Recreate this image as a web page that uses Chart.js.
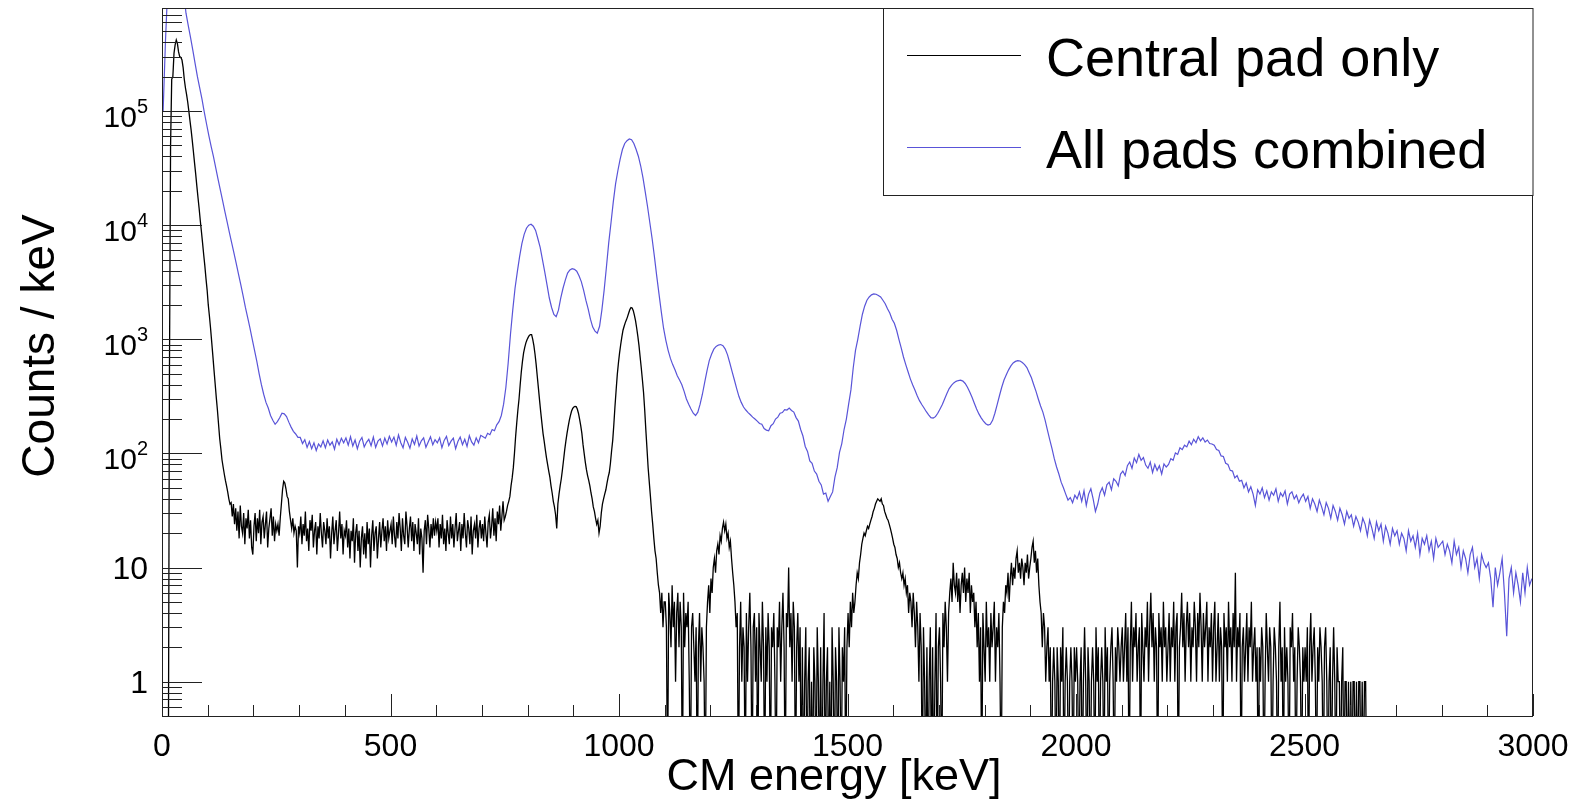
<!DOCTYPE html>
<html lang="en">
<head>
    <meta charset="UTF-8">
    <title>CM energy spectrum</title>
    <script src="https://cdn.jsdelivr.net/npm/chart.js@4.4.1/dist/chart.umd.min.js"></script>
    <style>
        body { margin: 0; background: #fff; }
        #wrap { width: 1573px; height: 805px; position: relative; }
    </style>
</head>
<body>
    <div id="wrap"><canvas id="spectrum"></canvas></div>

    <script>
        // bin widths in keV, both spectra start at 0 keV
        const centralBinWidth = 2.5;
        const allPadsBinWidth = 5;

        // central pad, counts / keV, one row = 100 keV (nothing above ~2635 keV)
        const centralPad = [
            0, 0, 0, 0, 0, 0, 440, 5e4, 1.9e5, 2.0e5, 3.2e5, 3.8e5, 4.2e5, 3.9e5, 3.3e5, 3.0e5, 2.95e5, 2.8e5, 2.4e5, 1.9e5,
            1.6e5, 1.4e5, 1.2e5, 1.0e5, 8.2e4, 6.8e4, 5.5e4, 4.4e4, 3.5e4, 2.8e4, 2.2e4, 1.75e4, 1.4e4, 1.1e4, 8.8e3, 7e3, 5.5e3, 4.4e3, 3.4e3, 2.7e3,
            2000, 1600, 1250, 950, 720, 540, 410, 310, 240, 180, 135, 110, 88, 76, 66, 58, 52, 46, 40, 36,
            37, 28, 36, 24, 33, 21, 31, 18, 35, 23, 20, 30, 16, 27, 22, 32, 18, 26, 15, 13,
            23, 30, 17, 27, 20, 32, 16, 25, 28, 18, 24, 31, 15, 22, 27, 33, 19, 28, 17, 24,
            21, 24, 19, 27, 36, 48, 57, 55, 49, 42, 40, 31, 26, 22, 27, 20, 23, 21, 10, 23,
            20, 28, 16, 24, 19, 31, 17, 22, 14, 26, 21, 29, 15, 21, 25, 13, 23, 18, 30, 20,
            15, 25, 21, 16, 27, 18, 23, 12, 20, 28, 16, 21, 26, 14, 20, 31, 18, 24, 13, 21,
            19, 26, 15, 22, 12, 21, 17, 27, 11, 20, 24, 14, 21, 10, 18, 23, 13, 20, 12, 25,
            16, 22, 10, 19, 26, 14, 20, 23, 12, 18, 25, 15, 21, 27, 17, 23, 14, 26, 18, 21,
            24, 16, 28, 19, 15, 25, 18, 30, 22, 14, 27, 19, 16, 31, 23, 15, 22, 28, 17, 25,
            14, 24, 20, 16, 27, 13, 22, 18, 9, 21, 26, 16, 29, 22, 15, 24, 18, 27, 19, 25,
            21, 27, 15, 24, 18, 29, 16, 22, 14, 26, 20, 16, 28, 18, 24, 15, 22, 30, 17, 21,
            25, 14, 24, 18, 30, 20, 15, 26, 22, 16, 28, 13, 21, 24, 18, 29, 15, 22, 26, 18,
            24, 17, 28, 20, 15, 25, 29, 18, 23, 33, 19, 27, 17, 31, 24, 35, 21, 28, 38, 26,
            28, 31, 35, 38, 42, 52, 61, 75, 100, 140, 185, 240, 300, 400, 520, 640, 760, 850, 930, 990,
            1040, 1080, 1100, 1100, 1000, 880, 740, 600, 470, 370, 290, 230, 185, 150, 128, 108, 92, 80, 70, 62,
            52, 45, 38, 34, 29, 22, 36, 44, 52, 60, 72, 88, 108, 128, 150, 172, 195, 215, 235, 248,
            255, 258, 257, 245, 225, 200, 175, 150, 120, 100, 84, 72, 64, 58, 52, 45, 40, 34, 31, 27,
            24, 26, 20, 23, 30, 36, 40, 44, 48, 55, 62, 68, 82, 105, 130, 180, 260, 360, 490, 620,
            760, 900, 1050, 1200, 1300, 1400, 1480, 1580, 1700, 1820, 1900, 1880, 1780, 1620, 1450, 1250, 1060, 880, 700, 560,
            440, 340, 240, 160, 110, 75, 56, 42, 31, 24, 18, 14, 12, 9, 7, 6, 4, 6, 3, 5,
            5, 3, 0, 6, 4, 2, 7, 3, 5, 1, 4, 6, 2, 5, 3, 0, 6, 2, 4, 3,
            5, 1, 0, 3, 4, 2, 1, 3, 0, 2, 4, 1, 3, 2, 1, 0, 3, 5, 7, 4,
            8, 6, 10, 12, 9, 14, 16, 13, 19, 17, 22, 25, 21, 24, 18, 20, 15, 17, 12, 9,
            7, 5, 3, 4, 0, 2, 5, 1, 3, 2, 0, 4, 1, 3, 6, 2, 0, 3, 4, 1,
            3, 0, 4, 2, 1, 5, 2, 0, 3, 1, 4, 2, 0, 3, 2, 4, 1, 0, 3, 2,
            5, 1, 3, 6, 2, 0, 4, 3, 10, 2, 4, 1, 5, 3, 0, 2, 4, 1, 3, 0,
            2, 0, 1, 3, 0, 1, 2, 0, 1, 0, 2, 1, 0, 3, 1, 0, 2, 0, 1, 4,
            0, 1, 2, 0, 1, 0, 3, 1, 0, 2, 1, 0, 3, 1, 0, 2, 1, 3, 0, 2,
            4, 2, 5, 3, 6, 4, 5, 7, 9, 8, 11, 13, 16, 18, 20, 19, 21, 23, 22, 24,
            26, 28, 31, 33, 36, 38, 40, 39, 38, 40, 36, 35, 31, 29, 27, 26, 24, 22, 20, 18,
            16, 15, 13, 12, 10, 11, 9, 8, 9, 7, 8, 6, 7, 4, 6, 5, 3, 6, 4, 2,
            5, 3, 1, 4, 2, 0, 3, 1, 0, 2, 0, 1, 3, 0, 2, 0, 1, 4, 0, 2,
            3, 1, 0, 4, 2, 5, 3, 1, 4, 6, 8, 5, 11, 7, 6, 9, 5, 8, 4, 7,
            9, 6, 10, 5, 8, 6, 9, 4, 7, 5, 6, 3, 5, 2, 4, 1, 3, 0, 4, 2,
            1, 5, 2, 3, 1, 4, 2, 3, 5, 1, 3, 2, 4, 1, 0, 3, 5, 4, 7, 6,
            9, 5, 8, 11, 7, 10, 8, 12, 14, 9, 11, 8, 12, 10, 7, 11, 9, 13, 8, 10,
            12, 15, 17, 11, 14, 9, 12, 7, 5, 4, 2, 4, 3, 1, 2, 3, 1, 2, 0, 1,
            2, 1, 0, 2, 1, 0, 2, 1, 3, 0, 1, 2, 1, 0, 1, 2, 1, 0, 2, 1,
            2, 1, 0, 1, 2, 0, 1, 3, 1, 0, 2, 1, 0, 1, 2, 1, 0, 3, 1, 2,
            0, 1, 2, 1, 0, 3, 1, 2, 0, 1, 2, 3, 1, 0, 2, 1, 3, 2, 1, 2,
            3, 1, 2, 4, 1, 3, 0, 2, 5, 1, 3, 2, 4, 1, 2, 3, 0, 4, 2, 1,
            3, 2, 5, 1, 3, 6, 2, 4, 1, 3, 2, 0, 4, 2, 3, 1, 5, 2, 3, 1,
            2, 4, 1, 3, 2, 5, 1, 3, 4, 0, 2, 3, 6, 2, 4, 1, 3, 5, 2, 4,
            1, 3, 2, 5, 3, 1, 4, 2, 6, 3, 1, 4, 2, 3, 5, 1, 3, 2, 4, 1,
            3, 5, 1, 2, 4, 1, 3, 2, 0, 4, 2, 3, 1, 5, 2, 3, 1, 4, 2, 9,
            1, 3, 2, 4, 0, 2, 3, 1, 2, 4, 1, 3, 2, 5, 1, 2, 3, 1, 2, 0,
            2, 1, 3, 2, 0, 1, 4, 2, 1, 3, 2, 0, 1, 3, 2, 1, 0, 2, 5, 1,
            2, 0, 3, 1, 2, 1, 0, 3, 2, 4, 1, 2, 0, 1, 3, 2, 1, 0, 2, 1,
            2, 1, 3, 0, 2, 4, 1, 2, 3, 1, 0, 2, 1, 3, 2, 1, 0, 2, 3, 1,
            0, 1, 2, 0, 1, 3, 1, 0, 2, 1, 1, 0, 1, 2, 0, 1, 1, 0, 1, 0,
            1, 0, 1, 1, 0, 1, 0, 1, 1, 0, 1, 0, 1, 1, 0
        ];

        // all pads combined, counts / keV, one row = 100 keV
        const allPads = [
            1e5, 4e5, 1.2e6, 2e6, 2.5e6, 2.6e6, 2.4e6, 2.0e6, 1.6e6, 1.1e6, 7.2e5, 5.6e5, 4.4e5, 3.4e5, 2.6e5, 2.0e5, 1.6e5, 1.27e5, 9.8e4, 7.7e4,
            6.1e4, 4.9e4, 4.0e4, 3.2e4, 2.55e4, 2.05e4, 1.65e4, 1.32e4, 1.07e4, 8.6e3, 7.0e3, 5.7e3, 4.6e3, 3.7e3, 3.0e3, 2.4e3, 1.9e3, 1.55e3, 1.25e3, 1.0e3,
            800, 640, 500, 400, 330, 280, 250, 215, 195, 180, 190, 205, 225, 222, 210, 188, 170, 156, 148, 138,
            138, 122, 132, 113, 127, 110, 124, 106, 121, 114, 129, 112, 131, 118, 126, 109, 133, 119, 136, 124,
            137, 118, 140, 116, 131, 110, 128, 138, 114, 125, 133, 117, 139, 113, 128, 134, 116, 136, 121, 141,
            126, 139, 118, 145, 124, 112, 138, 125, 111, 134, 120, 142, 116, 129, 137, 113, 126, 140, 119, 132,
            124, 137, 112, 130, 141, 117, 128, 136, 110, 127, 139, 119, 133, 115, 143, 126, 118, 137, 124, 144,
            140, 136, 150, 146, 162, 158, 178, 190, 215, 270, 380, 620, 1100, 1800, 2800, 3900, 5300, 6900, 8300, 9400,
            10000, 10200, 9800, 9000, 7600, 6400, 5000, 3900, 3000, 2300, 1900, 1650, 1580, 1800, 2300, 2800, 3300, 3800, 4050, 4150,
            4100, 3950, 3600, 3200, 2700, 2200, 1850, 1500, 1280, 1180, 1130, 1300, 1800, 2700, 4300, 7000, 10500, 16000, 23000, 30000,
            38000, 46000, 52000, 55000, 57000, 56000, 52000, 46000, 40000, 33000, 26000, 19500, 14500, 10500, 7600, 5300, 3600, 2500, 1750, 1250,
            980, 800, 680, 600, 540, 480, 440, 400, 350, 300, 270, 245, 225, 215, 230, 270, 330, 420, 530, 650,
            740, 820, 865, 890, 900, 880, 820, 730, 620, 520, 440, 370, 315, 280, 255, 240, 228, 218, 208, 200,
            192, 183, 180, 165, 160, 158, 175, 182, 200, 208, 225, 228, 242, 240, 250, 238, 230, 206, 192, 162,
            142, 115, 104, 86, 82, 70, 66, 57, 53, 44, 45, 38, 42, 46, 62, 75, 102, 122, 162, 200,
            270, 360, 560, 800, 1000, 1300, 1650, 1950, 2200, 2350, 2450, 2500, 2480, 2420, 2350, 2200, 2050, 1850, 1700, 1500,
            1380, 1200, 1000, 840, 700, 600, 520, 450, 400, 360, 320, 290, 268, 250, 232, 218, 206, 204, 210, 225,
            245, 268, 300, 335, 370, 395, 415, 428, 435, 438, 430, 410, 380, 345, 310, 275, 245, 222, 205, 192,
            182, 177, 180, 195, 225, 268, 320, 380, 440, 490, 540, 585, 620, 640, 650, 645, 625, 600, 565, 510,
            460, 400, 350, 300, 260, 230, 195, 160, 132, 110, 90, 76, 66, 56, 50, 44, 39, 41, 37, 43,
            40, 46, 38, 47, 35, 44, 49, 40, 31, 36, 45, 50, 43, 53, 56, 48, 60, 57, 52, 66,
            70, 64, 78, 84, 74, 91, 83, 98, 87, 92, 79, 74, 84, 68, 80, 71, 78, 66, 81, 76,
            80, 90, 87, 101, 98, 112, 108, 118, 114, 128, 119, 133, 124, 140, 129, 137, 126, 131, 122, 121,
            118, 108, 106, 95, 94, 82, 80, 71, 70, 61, 64, 57, 58, 50, 55, 46, 51, 44, 35, 48,
            44, 50, 41, 47, 39, 46, 43, 49, 38, 45, 42, 47, 36, 44, 46, 40, 43, 37, 41, 44,
            38, 42, 33, 40, 36, 31, 39, 34, 29, 37, 33, 27, 35, 31, 26, 33, 29, 24, 31, 27,
            29, 23, 28, 25, 21, 27, 24, 19, 26, 22, 18, 25, 21, 24, 17, 23, 20, 16, 22, 19,
            21, 16, 20, 18, 14, 21, 17, 19, 15, 20, 13, 18, 16, 19, 14, 17, 12, 18, 15, 16,
            17, 13, 16, 14, 11, 17, 13, 15, 10, 14, 12, 9, 13, 15, 10, 12, 8, 13, 11, 10,
            11, 8, 4.5, 10, 7, 9, 12, 6, 2.5, 8, 10, 6, 9, 7, 5, 9, 6, 10, 7, 8
        ];

        const seriesNames = ['Central pad only', 'All pads combined'];
        const seriesColors = ['#000000', '#5954d8'];

        const xTickLabels = [0, 500, 1000, 1500, 2000, 2500, 3000];
        const xMinorStep = 100;
        const yTickExponents = [0, 1, 2, 3, 4, 5];   // 1, 10, 10^2 ... 10^5
        const xTitle = 'CM energy [keV]';
        const yTitle = 'Counts / keV';

        const yMin = 0.5, yMax = 8e5;
        const fontFamily = '"Liberation Sans", Arial, Helvetica, sans-serif';

        // empty bins are pushed below the axis so the line drops to the frame, like ROOT does
        function toPoints(counts, width) {
            return counts.map((c, i) => ({ x: i * width + width / 2, y: c > 0 ? c : 0.1 }));
        }

        const rootFrame = {
            id: 'rootFrame',
            afterDatasetsDraw(chart) {
                const { ctx, chartArea: a, scales: { x, y } } = chart;
                ctx.save();
                ctx.strokeStyle = '#222';
                ctx.lineWidth = 1;
                ctx.beginPath();

                // x ticks, pointing inside
                for (let v = 0; v <= 3000; v += xMinorStep) {
                    const px = Math.round(x.getPixelForValue(v)) + 0.5;
                    const len = xTickLabels.includes(v) ? 22 : 11;
                    ctx.moveTo(px, a.bottom);
                    ctx.lineTo(px, a.bottom - len);
                }
                // y ticks, log decades
                for (let n = -1; n <= 6; n++) {
                    for (let k = 1; k <= 9; k++) {
                        const v = k * Math.pow(10, n);
                        if (v < yMin || v > yMax) continue;
                        const py = Math.round(y.getPixelForValue(v)) + 0.5;
                        const len = k === 1 ? 40 : 20;
                        ctx.moveTo(a.left, py);
                        ctx.lineTo(a.left + len, py);
                    }
                }
                ctx.stroke();

                // frame
                ctx.strokeRect(a.left + 0.5, a.top + 0.5, a.right - a.left - 1, a.bottom - a.top);

                ctx.fillStyle = '#000';
                // x tick labels
                ctx.font = '32px ' + fontFamily;
                ctx.textAlign = 'center';
                ctx.textBaseline = 'alphabetic';
                xTickLabels.forEach(v => {
                    ctx.fillText(String(v), x.getPixelForValue(v), 756);
                });

                // y tick labels with superscript exponents
                yTickExponents.forEach(n => {
                    const py = y.getPixelForValue(Math.pow(10, n));
                    const right = 148;
                    if (n <= 1) {
                        ctx.font = '32px ' + fontFamily;
                        ctx.textAlign = 'right';
                        ctx.fillText(n === 0 ? '1' : '10', right, py + 11.5);
                    } else {
                        ctx.font = '20px ' + fontFamily;
                        const ew = ctx.measureText(String(n)).width;
                        ctx.textAlign = 'right';
                        ctx.fillText(String(n), right, py + 2);
                        ctx.font = '30px ' + fontFamily;
                        ctx.fillText('10', right - ew, py + 16);
                    }
                });

                // axis titles
                ctx.font = '45px ' + fontFamily;
                ctx.textAlign = 'center';
                ctx.fillText(xTitle, 834, 790);
                ctx.save();
                ctx.translate(54, 346);
                ctx.rotate(-Math.PI / 2);
                ctx.font = '46px ' + fontFamily;
                ctx.fillText(yTitle, 0, 0);
                ctx.restore();

                // legend box in the top right corner
                const lx = 883, ly = a.top, lw = a.right - 883, lh = 187;
                ctx.fillStyle = '#fff';
                ctx.fillRect(lx, ly, lw, lh);
                ctx.strokeRect(lx + 0.5, ly + 0.5, lw - 0.5, lh);
                const rows = [55.5, 147.5];
                ctx.font = '54px ' + fontFamily;
                ctx.textAlign = 'left';
                seriesNames.forEach((name, i) => {
                    ctx.strokeStyle = seriesColors[i];
                    ctx.lineWidth = 1.2;
                    ctx.beginPath();
                    ctx.moveTo(907, rows[i]);
                    ctx.lineTo(1021, rows[i]);
                    ctx.stroke();
                    ctx.fillStyle = '#000';
                    ctx.fillText(name, 1046, rows[i] + 20);
                });
                ctx.restore();
            }
        };

        new Chart(document.getElementById('spectrum'), {
            type: 'line',
            data: {
                datasets: [
                    {
                        label: seriesNames[1],
                        data: toPoints(allPads, allPadsBinWidth),
                        borderColor: seriesColors[1],
                        borderWidth: 1.2,
                        tension: 0,
                        pointRadius: 0,
                        fill: false,
                        clip: 0
                    },
                    {
                        label: seriesNames[0],
                        data: toPoints(centralPad, centralBinWidth),
                        borderColor: seriesColors[0],
                        borderWidth: 1.3,
                        tension: 0,
                        pointRadius: 0,
                        fill: false,
                        clip: 0
                    }
                ]
            },
            options: {
                responsive: true,
                maintainAspectRatio: false,
                animation: false,
                layout: { padding: { left: 162, right: 40, top: 8, bottom: 89 } },
                plugins: { legend: { display: false }, tooltip: { enabled: false } },
                scales: {
                    x: { type: 'linear', min: 0, max: 3000, display: false },
                    y: { type: 'logarithmic', min: yMin, max: yMax, display: false }
                }
            },
            plugins: [rootFrame]
        });
    </script>
</body>
</html>
